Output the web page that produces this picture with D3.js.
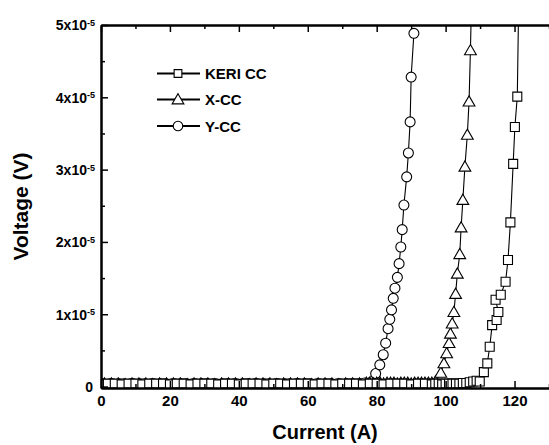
<!DOCTYPE html>
<html>
<head>
<meta charset="utf-8">
<script src="https://cdn.jsdelivr.net/npm/d3@7"></script>
<style>
  body { margin: 0; background: #fff; }
  svg text { font-family: "Liberation Sans", Arial, sans-serif; font-weight: bold; fill: #000; }
</style>
</head>
<body>
<div id="chart"></div>
<script>
// voltages are in units of 1e-5 V
var yccI = [0.5,1.5,2.5,3.5,4.5,5.5,6.5,7.5,8.5,9.5,10.5,11.5,12.5,13.5,14.5,15.5,16.5,17.5,18.5,19.5,20.5,21.5,22.5,23.5,24.5,25.5,26.5,27.5,28.5,29.5,
  30.5,31.5,32.5,33.5,34.5,35.5,36.5,37.5,38.5,39.5,40.5,41.5,42.5,43.5,44.5,45.5,46.5,47.5,48.5,49.5,50.5,51.5,52.5,53.5,54.5,55.5,56.5,57.5,58.5,59.5,
  60.5,61.5,62.5,63.5,64.5,65.5,66.5,67.5,68.5,69.5,70.5,71.5,72.5,73.5,74.5,75.5,76.5,
  77.8,78.7,79.7,80.9,81.9,82.6,83.3,83.8,84.3,84.8,85.3,86.0,86.5,87.0,87.4,87.9,88.7,89.2,89.7,90.0,90.8];
var yccV = [0.04,0.03,0.04,0.04,0.03,0.04,0.04,0.03,0.04,0.04,0.03,0.04,0.04,0.03,0.04,0.04,0.03,0.04,0.04,0.03,0.04,0.04,0.03,0.04,0.04,0.03,0.04,0.04,0.03,0.04,
  0.04,0.03,0.04,0.04,0.03,0.04,0.04,0.03,0.04,0.04,0.03,0.04,0.04,0.03,0.04,0.04,0.03,0.04,0.04,0.03,0.04,0.04,0.03,0.04,0.04,0.03,0.04,0.04,0.03,0.04,
  0.04,0.03,0.04,0.04,0.03,0.04,0.04,0.03,0.04,0.04,0.03,0.04,0.04,0.04,0.04,0.04,0.05,
  0.04,0.07,0.18,0.30,0.44,0.60,0.80,0.93,1.06,1.22,1.36,1.51,1.70,1.93,2.17,2.51,2.90,3.23,3.66,4.28,4.885];

var xccI = [1,3,5,7,9,11,13,15,17,19,21,23,25,27,29,31,33,35,37,39,41,43,45,47,49,51,53,55,57,59,61,63,65,67,69,71,73,75,77,
  78,79,80,81,82,83,84,85,86,87,88,89,90,91,92,93,94,95,96,
  97.1,98.6,99.5,100.3,101.0,101.4,101.9,102.4,102.9,103.4,104.1,104.5,105.0,105.6,106.3,106.8,107.2,107.6];
var xccV = [0.04,0.04,0.04,0.03,0.04,0.04,0.04,0.03,0.04,0.04,0.04,0.04,0.03,0.04,0.04,0.04,0.03,0.04,0.04,0.04,0.04,0.03,0.04,0.04,0.04,0.03,0.04,0.04,0.04,0.04,0.03,0.04,0.04,0.04,0.03,0.04,0.04,0.04,0.05,
  0.05,0.04,0.05,0.05,0.04,0.05,0.05,0.05,0.04,0.05,0.05,0.05,0.04,0.05,0.05,0.05,0.05,0.05,0.05,
  0.07,0.19,0.32,0.46,0.60,0.73,0.87,1.03,1.28,1.56,1.83,2.20,2.58,3.04,3.48,3.94,4.65,5.50];

var keriI = [0,2,4,6,8,10,12,14,16,18,20,22,24,26,28,30,32,34,36,38,40,42,44,46,48,50,52,54,56,58,60,62,64,66,68,70,72,74,76,78,80,82,84,86,88,90,92,94,
  96,97,98,99,100,101,102,103,104,105,106,107,108,109,
  109.9,111.1,112.1,112.8,113.5,114.8,115.3,114.5,116.0,117.4,118.1,118.8,119.6,120.1,120.8,121.2];
var keriV = [0.03,0.04,0.04,0.03,0.04,0.04,0.03,0.04,0.04,0.04,0.03,0.04,0.04,0.03,0.04,0.04,0.04,0.03,0.04,0.04,0.03,0.04,0.04,0.04,0.03,0.04,0.04,0.03,0.04,0.04,0.04,0.03,0.04,0.04,0.03,0.04,0.04,0.04,0.03,0.04,0.04,0.03,0.04,0.04,0.04,0.03,0.04,0.04,
  0.03,0.04,0.04,0.03,0.04,0.04,0.04,0.04,0.04,0.05,0.05,0.06,0.07,0.08,
  0.07,0.20,0.32,0.55,0.85,0.92,1.03,1.20,1.27,1.45,1.75,2.27,3.08,3.59,4.01,5.30];

var seriesNames = ["KERI CC", "X-CC", "Y-CC"];
var seriesSymbols = ["square", "triangle", "circle"];
var xTicks = [0, 20, 40, 60, 80, 100, 120];
var xMinor = [10, 30, 50, 70, 90, 110, 130];
var yTicks = [0, 1, 2, 3, 4, 5];
var yMinor = [0.5, 1.5, 2.5, 3.5, 4.5];

var svgWidth = 549, svgHeight = 445;
var plotLeft = 101, plotRight = 549, plotTop = 25, plotBottom = 388;

var svg = d3.select("#chart").append("svg")
  .attr("width", svgWidth)
  .attr("height", svgHeight);

var x = d3.scaleLinear().domain([0, 130]).range([plotLeft, plotRight]);
var y = d3.scaleLinear().domain([-0.02, 5]).range([plotBottom, plotTop]);

function zip(I, V) {
  return I.map(function(d, i) { return {i: d, v: V[i]}; });
}
var series = [zip(keriI, keriV), zip(xccI, xccV), zip(yccI, yccV)];

svg.append("clipPath").attr("id", "plotclip")
  .append("rect")
  .attr("x", plotLeft).attr("y", plotTop)
  .attr("width", plotRight - plotLeft).attr("height", plotBottom - plotTop + 1);

var symbolGen = {
  square: d3.symbol().type(d3.symbolSquare).size(81),
  triangle: d3.symbol().type(d3.symbolTriangle).size(60),
  circle: d3.symbol().type(d3.symbolCircle).size(78)
};

var plot = svg.append("g").attr("clip-path", "url(#plotclip)");

var line = d3.line().x(d => x(d.i)).y(d => y(d.v));

// lines first, then markers (low-current parts under the rising parts)
[2, 1, 0].forEach(function(idx) {
  plot.append("path")
    .datum(series[idx])
    .attr("d", line)
    .attr("fill", "none")
    .attr("stroke", "#000")
    .attr("stroke-width", 1.1);
});
[2, 1, 0].forEach(function(idx) {
  plot.selectAll(".m" + idx)
    .data(series[idx])
    .enter()
    .append("path")
    .attr("class", "m" + idx)
    .attr("d", symbolGen[seriesSymbols[idx]])
    .attr("transform", d => `translate(${x(d.i)},${y(d.v) + (seriesSymbols[idx] == "triangle" ? 1 : 0)})`)
    .attr("fill", "#fff")
    .attr("stroke", "#000")
    .attr("stroke-width", 1.1);
});

// axes with inward ticks
function styleAxis(g, size) {
  g.select(".domain").attr("stroke-width", 2);
  g.selectAll(".tick line").attr("stroke-width", 1.5);
  g.selectAll("text").style("font-size", (size || 14) + "px").style("font-weight", "bold")
    .style("font-family", "Liberation Sans, Arial, sans-serif");
}

svg.append("g")
  .attr("transform", `translate(0,${plotBottom})`)
  .call(d3.axisBottom(x).tickValues(xTicks).tickSizeInner(-7).tickSizeOuter(0).tickPadding(7).tickFormat(d3.format("d")))
  .call(styleAxis, 15);
svg.append("g")
  .attr("transform", `translate(0,${plotBottom})`)
  .call(d3.axisBottom(x).tickValues(xMinor).tickSizeInner(-4).tickSizeOuter(0).tickFormat(""))
  .call(styleAxis);

svg.append("g")
  .attr("transform", `translate(0,${plotTop})`)
  .call(d3.axisTop(x).tickValues(xTicks).tickSizeInner(-7).tickSizeOuter(0).tickFormat(""))
  .call(styleAxis);
svg.append("g")
  .attr("transform", `translate(0,${plotTop})`)
  .call(d3.axisTop(x).tickValues(xMinor).tickSizeInner(-4).tickSizeOuter(0).tickFormat(""))
  .call(styleAxis);

var yAxisG = svg.append("g")
  .attr("transform", `translate(${plotLeft},0)`)
  .call(d3.axisLeft(y).tickValues(yTicks).tickSizeInner(-7).tickSizeOuter(0).tickPadding(8).tickFormat(""))
  .call(styleAxis, 14);
svg.append("g")
  .attr("transform", `translate(${plotLeft},0)`)
  .call(d3.axisLeft(y).tickValues(yMinor).tickSizeInner(-4).tickSizeOuter(0).tickFormat(""))
  .call(styleAxis);

// y tick labels with superscript exponent
yAxisG.selectAll(".tick").each(function(d) {
  var t = d3.select(this).select("text")
    .attr("x", -6).attr("dy", "0.35em")
    .attr("text-anchor", "end");
  if (d === 0) {
    t.text("0").attr("x", -8);
  } else {
    t.append("tspan").text(d + "x10");
    t.append("tspan").attr("dy", "-0.5em").style("font-size", "9px").text("-5");
  }
});

// axis titles
svg.append("text")
  .attr("transform", `translate(28,${(plotTop + plotBottom) / 2}) rotate(-90)`)
  .attr("text-anchor", "middle")
  .style("font-size", "21px")
  .text("Voltage (V)");

svg.append("text")
  .attr("x", (plotLeft + plotRight) / 2)
  .attr("y", 439)
  .attr("text-anchor", "middle")
  .style("font-size", "20px")
  .text("Current (A)");

// legend
var legendY = [73.5, 99.5, 126];
var legendSym = {square: d3.symbolSquare, triangle: d3.symbolTriangle, circle: d3.symbolCircle};
var legendSize = {square: 60, triangle: 60, circle: 72};
seriesNames.forEach(function(name, k) {
  var sym = seriesSymbols[k];
  var row = svg.append("g").attr("transform", `translate(0,${legendY[k]})`);
  row.append("line")
    .attr("x1", 157).attr("x2", 200)
    .attr("stroke", "#000").attr("stroke-width", 1.8);
  row.append("path")
    .attr("d", d3.symbol().type(legendSym[sym]).size(legendSize[sym]))
    .attr("transform", `translate(178,${sym == "triangle" ? 1 : 0})`)
    .attr("fill", "#fff").attr("stroke", "#000").attr("stroke-width", 1.1);
  row.append("text")
    .attr("x", 205).attr("y", 5.5)
    .style("font-size", "15px")
    .text(name);
});
</script>
</body>
</html>
